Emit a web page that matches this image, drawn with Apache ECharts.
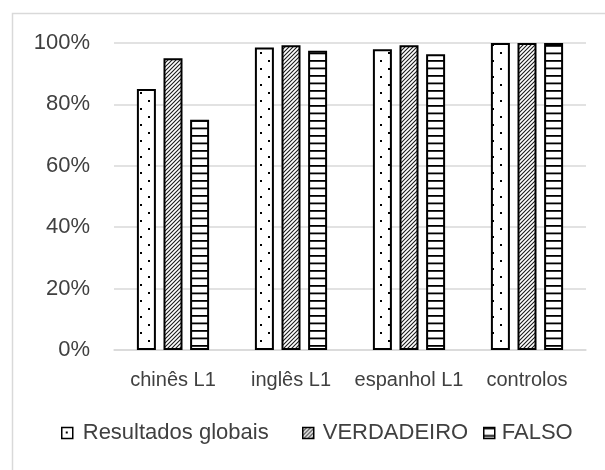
<!DOCTYPE html>
<html>
<head>
<meta charset="utf-8">
<script src="https://cdn.jsdelivr.net/npm/echarts@6/dist/echarts.min.js"></script>
<style>
  html, body { margin: 0; padding: 0; background: #fff; }
  #chart { width: 605px; height: 470px; }
</style>
</head>
<body>
<div id="chart"></div>
<script>
// Groups along the x axis
const categories = ['chinês L1', 'inglês L1', 'espanhol L1', 'controlos'];
// Share of correct answers per group (fractions of 1)
const resultadosGlobais = [0.85, 0.985, 0.98, 1.0];
const verdadeiro = [0.95, 0.993, 0.993, 1.0];
const falso = [0.75, 0.975, 0.963, 1.0];
const seriesNames = ['Resultados globais', 'VERDADEIRO', 'FALSO'];
const yTicks = [0, 0.2, 0.4, 0.6, 0.8, 1.0];

// Small canvas tiles used as repeating fill patterns
function makeTile(w, h, draw) {
  const c = document.createElement('canvas');
  c.width = w; c.height = h;
  const ctx = c.getContext('2d');
  ctx.fillStyle = '#fff';
  ctx.fillRect(0, 0, w, h);
  draw(ctx);
  return c;
}
const dotTile = makeTile(16, 16, ctx => {
  ctx.fillStyle = '#000';
  ctx.fillRect(4, 4, 2, 2);
  ctx.fillRect(12, 12, 2, 2);
});
const diagTile = makeTile(4, 4, ctx => {
  ctx.strokeStyle = '#1a1a1a';
  ctx.lineWidth = 1.1;
  ctx.beginPath();
  ctx.moveTo(-1, 5); ctx.lineTo(5, -1);
  ctx.moveTo(-1, 1); ctx.lineTo(1, -1);
  ctx.moveTo(3, 5); ctx.lineTo(5, 3);
  ctx.stroke();
});
const stripeTile = makeTile(4, 15, ctx => {
  ctx.fillStyle = '#000';
  ctx.fillRect(0, 0, 4, 1.8);
  ctx.fillRect(0, 7.5, 4, 1.8);
});
const fills = [
  { image: dotTile, repeat: 'repeat' },
  { image: diagTile, repeat: 'repeat' },
  { image: stripeTile, repeat: 'repeat' }
];
const values = [resultadosGlobais, verdadeiro, falso];

const textColor = '#404040';
const fontFamily = '"Liberation Sans", Arial, sans-serif';
const legendLeft = [61, 302, 483];
const legendTextPad = [5, 4, 2];

const chart = echarts.init(document.getElementById('chart'), null, { renderer: 'canvas' });
chart.setOption({
  animation: false,
  backgroundColor: '#fff',
  graphic: [{
    type: 'rect',
    shape: { x: 12.5, y: 13.5, width: 700, height: 600 },
    style: { fill: 'none', stroke: '#d9d9d9', lineWidth: 1.5 },
    silent: true
  }],
  grid: { left: 114, right: 19, top: 43, bottom: 120 },
  xAxis: {
    type: 'category',
    data: categories,
    axisLine: { lineStyle: { color: '#d9d9d9', width: 1.5 } },
    axisTick: { show: false },
    axisLabel: {
      color: textColor, fontSize: 20, fontFamily, margin: 20,
      interval: 0, hideOverlap: false
    }
  },
  yAxis: {
    type: 'value',
    min: yTicks[0],
    max: yTicks[yTicks.length - 1],
    interval: 0.2,
    axisLine: { show: false },
    axisTick: { show: false },
    splitLine: { lineStyle: { color: '#d9d9d9', width: 1.5 } },
    axisLabel: {
      color: textColor, fontSize: 22, fontFamily, margin: 24,
      formatter: v => Math.round(v * 100) + '%'
    }
  },
  legend: seriesNames.map((name, i) => ({
    data: [name],
    left: legendLeft[i],
    top: 422,
    padding: 0,
    icon: 'rect',
    itemWidth: 11,
    itemHeight: 11,
    selectedMode: false,
    itemStyle: { borderColor: '#000', borderWidth: 1.5 },
    textStyle: { color: textColor, fontSize: 22, fontFamily, padding: [0, 0, 0, legendTextPad[i]] }
  })),
  series: seriesNames.map((name, i) => ({
    name,
    type: 'bar',
    data: values[i],
    barWidth: 19,
    barGap: '40%',
    itemStyle: { color: fills[i], borderColor: '#000', borderWidth: 2 }
  }))
});
</script>
</body>
</html>
